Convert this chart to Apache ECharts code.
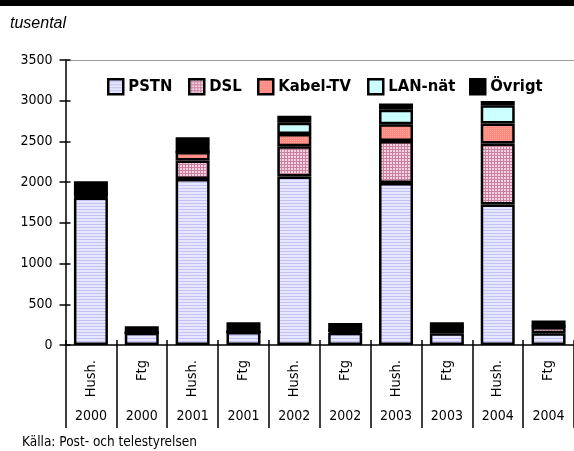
<!DOCTYPE html>
<html>
<head>
<meta charset="utf-8">
<script src="https://cdn.jsdelivr.net/npm/echarts@6/dist/echarts.min.js"></script>
<style>
html,body{margin:0;padding:0;background:#fff;}
#chart{width:574px;height:451px;}
</style>
</head>
<body>
<div id="chart"></div>
<script>
// ---- data ----
var categories = ['Hush.','Ftg','Hush.','Ftg','Hush.','Ftg','Hush.','Ftg','Hush.','Ftg'];
var years = ['2000','2000','2001','2001','2002','2002','2003','2003','2004','2004'];
var seriesNames = ['PSTN','DSL','Kabel-TV','LAN-nät','Övrigt'];
var pstn   = [1810, 150, 2040, 160, 2070, 150, 1990, 145, 1725, 145];
var dsl    = [10,   0,   225,  0,   370,  20,  515,  60,  750,  75];
var kabel  = [40,   0,   105,  0,   150,  5,   205,  10,  245,  10];
var lan    = [0,    0,   0,    0,   140,  0,   180,  0,   225,  0];
var ovrigt = [150,  80,  180,  120, 85,   95,  75,   65,  50,   70];
var yTicks = [0, 500, 1000, 1500, 2000, 2500, 3000, 3500];

// ---- patterns ----
function pat(w, h, draw) {
  var c = document.createElement('canvas');
  c.width = w; c.height = h;
  var g = c.getContext('2d');
  draw(g);
  return {image: c, repeat: 'repeat'};
}
var pPSTN = pat(4, 3, function (g) {
  g.fillStyle = '#E6E6FF'; g.fillRect(0, 0, 4, 3);
  g.fillStyle = '#C2C2F4'; g.fillRect(0, 2, 4, 1);
});
var pDSL = pat(3, 3, function (g) {
  g.fillStyle = '#F4D2E2'; g.fillRect(0, 0, 3, 3);
  g.fillStyle = '#C8829F'; g.fillRect(0, 2, 3, 1); g.fillRect(2, 0, 1, 3);
});
var pKabel = pat(2, 2, function (g) {
  g.fillStyle = '#FF8A80'; g.fillRect(0, 0, 2, 2);
  g.fillStyle = '#FFA39A'; g.fillRect(0, 0, 1, 1);
});
var colors = [pPSTN, pDSL, pKabel, '#CCFFFF', '#000000'];
var values = [pstn, dsl, kabel, lan, ovrigt];

var NARROW = "'DejaVu Sans Condensed','Liberation Sans Narrow',sans-serif";

var series = seriesNames.map(function (n, i) {
  return {
    name: n, type: 'bar', stack: 'total', barWidth: 34,
    xAxisIndex: 0, yAxisIndex: 0,
    data: values[i],
    itemStyle: {color: colors[i], borderColor: '#000', borderWidth: 2.5},
    emphasis: {disabled: true}
  };
});

var legendLefts = [107, 188, 257, 367, 469];
var legends = seriesNames.map(function (n, i) {
  return {
    data: [n], left: legendLefts[i], top: 78, padding: 0,
    itemWidth: 15, itemHeight: 15, icon: 'rect', selectedMode: false,
    itemStyle: {borderColor: '#000', borderWidth: 2.5},
    textStyle: {fontFamily: NARROW, fontWeight: 'bold', fontSize: 16.5, color: '#000', padding: [0,0,0,0]}
  };
});

var chart = echarts.init(document.getElementById('chart'), null, {renderer: 'canvas'});
chart.setOption({
  backgroundColor: '#fff',
  animation: false,
  grid: {left: 65.5, top: 60, width: 510, height: 285, containLabel: false},
  legend: legends,
  xAxis: [
    {type: 'category', data: categories, position: 'bottom', boundaryGap: true,
     axisLine: {lineStyle: {color: '#000', width: 1.5}},
     axisTick: {show: true, interval: 0, length: 83, lineStyle: {color: '#000', width: 1.5}},
     axisLabel: {interval: 0, rotate: 90, margin: 15, fontFamily: NARROW, fontSize: 14.5, color: '#000'}},
    {type: 'category', data: years, position: 'bottom', boundaryGap: true,
     axisLine: {show: false},
     axisTick: {show: true, inside: true, interval: 0, length: 5, lineStyle: {color: '#000', width: 1.5}},
     axisLabel: {interval: 0, margin: 64, fontFamily: NARROW, fontSize: 14, color: '#000'}},
    {type: 'category', data: categories, position: 'top',
     axisLine: {show: true, lineStyle: {color: '#9a9a9a', width: 1}},
     axisTick: {show: false}, axisLabel: {show: false}}
  ],
  yAxis: [
    {type: 'value', min: yTicks[0], max: yTicks[yTicks.length - 1], interval: 500, position: 'left',
     axisLine: {show: true, lineStyle: {color: '#000', width: 1.5}},
     axisTick: {show: true, length: 6, lineStyle: {color: '#000', width: 1.5}},
     splitLine: {show: false},
     axisLabel: {margin: 13, fontFamily: NARROW, fontSize: 14, color: '#000',
                 formatter: function (v) { return String(v); }}},
    {type: 'value', min: yTicks[0], max: yTicks[yTicks.length - 1], interval: 500, position: 'left', offset: 0,
     axisLine: {show: false},
     axisTick: {show: true, inside: true, length: 5, lineStyle: {color: '#000', width: 1.5}},
     splitLine: {show: false}, axisLabel: {show: false}}
  ],
  graphic: [
    {type: 'rect', left: 0, top: 0, shape: {width: 574, height: 6}, style: {fill: '#000'}},
    {type: 'text', left: 10, top: 16, style: {text: 'tusental', font: 'italic 16px "Liberation Sans", Arial, sans-serif', fill: '#000'}},
    {type: 'text', left: 22, top: 435, style: {text: 'Källa: Post- och telestyrelsen', font: '13.5px ' + NARROW, fill: '#000'}}
  ],
  series: series
});
</script>
</body>
</html>
